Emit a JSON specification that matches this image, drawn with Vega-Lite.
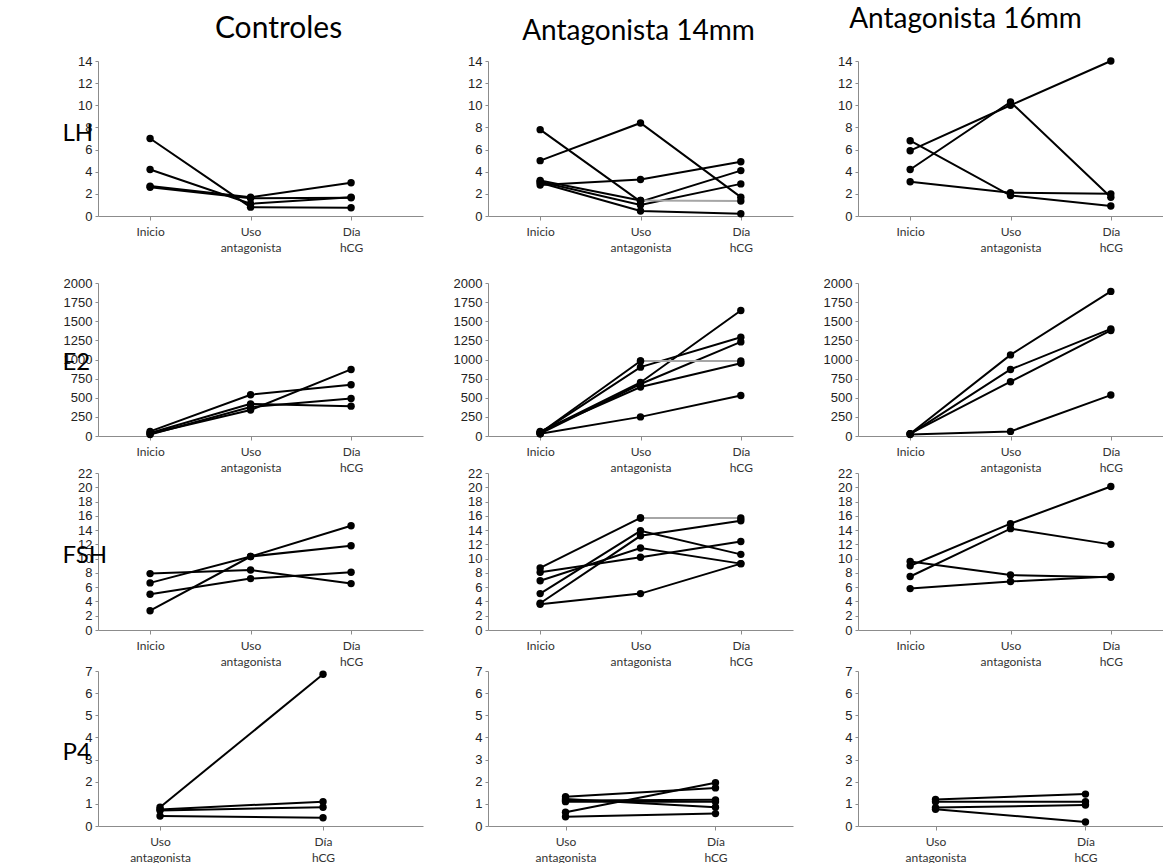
{
"$schema":"https://vega.github.io/schema/vega-lite/v6.json",
"background":"white",
"padding":{"left":62,"top":6,"right":0,"bottom":0},
"data":{"name":"d"},
"datasets":{"d":[
{"h":"LH","g":"C","s":"1","e":"Inicio","v":7.0,"c":"k"},{"h":"LH","g":"C","s":"1","e":"Uso antagonista","v":0.8,"c":"k"},{"h":"LH","g":"C","s":"1","e":"Día hCG","v":0.75,"c":"k"},
{"h":"LH","g":"C","s":"2","e":"Inicio","v":4.2,"c":"k"},{"h":"LH","g":"C","s":"2","e":"Uso antagonista","v":1.1,"c":"k"},{"h":"LH","g":"C","s":"2","e":"Día hCG","v":1.7,"c":"k"},
{"h":"LH","g":"C","s":"3","e":"Inicio","v":2.7,"c":"k"},{"h":"LH","g":"C","s":"3","e":"Uso antagonista","v":1.7,"c":"k"},{"h":"LH","g":"C","s":"3","e":"Día hCG","v":3.0,"c":"k"},
{"h":"LH","g":"C","s":"4","e":"Inicio","v":2.6,"c":"k"},{"h":"LH","g":"C","s":"4","e":"Uso antagonista","v":1.6,"c":"k"},{"h":"LH","g":"C","s":"4","e":"Día hCG","v":1.65,"c":"k"},
{"h":"LH","g":"A14","s":"1","e":"Inicio","v":7.8,"c":"k"},{"h":"LH","g":"A14","s":"1","e":"Uso antagonista","v":1.3,"c":"k"},{"h":"LH","g":"A14","s":"1","e":"Día hCG","v":4.1,"c":"k"},
{"h":"LH","g":"A14","s":"2","e":"Inicio","v":5.0,"c":"k"},{"h":"LH","g":"A14","s":"2","e":"Uso antagonista","v":8.4,"c":"k"},{"h":"LH","g":"A14","s":"2","e":"Día hCG","v":1.7,"c":"k"},
{"h":"LH","g":"A14","s":"3","e":"Inicio","v":2.8,"c":"k"},{"h":"LH","g":"A14","s":"3","e":"Uso antagonista","v":3.3,"c":"k"},{"h":"LH","g":"A14","s":"3","e":"Día hCG","v":4.9,"c":"k"},
{"h":"LH","g":"A14","s":"4","e":"Inicio","v":3.1,"c":"k"},{"h":"LH","g":"A14","s":"4","e":"Uso antagonista","v":1.0,"c":"k"},{"h":"LH","g":"A14","s":"4","e":"Día hCG","v":2.9,"c":"k"},
{"h":"LH","g":"A14","s":"5","e":"Inicio","v":3.0,"c":"k"},{"h":"LH","g":"A14","s":"5","e":"Uso antagonista","v":0.45,"c":"k"},{"h":"LH","g":"A14","s":"5","e":"Día hCG","v":0.2,"c":"k"},
{"h":"LH","g":"A14","s":"6","e":"Inicio","v":3.2,"c":"k"},{"h":"LH","g":"A14","s":"6","e":"Uso antagonista","v":1.4,"c":"k"},
{"h":"LH","g":"A14","s":"6g","e":"Uso antagonista","v":1.4,"c":"g"},{"h":"LH","g":"A14","s":"6g","e":"Día hCG","v":1.35,"c":"g"},
{"h":"LH","g":"A16","s":"1","e":"Inicio","v":6.8,"c":"k"},{"h":"LH","g":"A16","s":"1","e":"Uso antagonista","v":1.85,"c":"k"},{"h":"LH","g":"A16","s":"1","e":"Día hCG","v":0.9,"c":"k"},
{"h":"LH","g":"A16","s":"2","e":"Inicio","v":5.9,"c":"k"},{"h":"LH","g":"A16","s":"2","e":"Uso antagonista","v":10.0,"c":"k"},{"h":"LH","g":"A16","s":"2","e":"Día hCG","v":14.0,"c":"k"},
{"h":"LH","g":"A16","s":"3","e":"Inicio","v":4.2,"c":"k"},{"h":"LH","g":"A16","s":"3","e":"Uso antagonista","v":10.3,"c":"k"},{"h":"LH","g":"A16","s":"3","e":"Día hCG","v":1.7,"c":"k"},
{"h":"LH","g":"A16","s":"4","e":"Inicio","v":3.1,"c":"k"},{"h":"LH","g":"A16","s":"4","e":"Uso antagonista","v":2.1,"c":"k"},{"h":"LH","g":"A16","s":"4","e":"Día hCG","v":2.0,"c":"k"},
{"h":"E2","g":"C","s":"1","e":"Inicio","v":60,"c":"k"},{"h":"E2","g":"C","s":"1","e":"Uso antagonista","v":540,"c":"k"},{"h":"E2","g":"C","s":"1","e":"Día hCG","v":670,"c":"k"},
{"h":"E2","g":"C","s":"2","e":"Inicio","v":40,"c":"k"},{"h":"E2","g":"C","s":"2","e":"Uso antagonista","v":420,"c":"k"},{"h":"E2","g":"C","s":"2","e":"Día hCG","v":390,"c":"k"},
{"h":"E2","g":"C","s":"3","e":"Inicio","v":30,"c":"k"},{"h":"E2","g":"C","s":"3","e":"Uso antagonista","v":340,"c":"k"},{"h":"E2","g":"C","s":"3","e":"Día hCG","v":870,"c":"k"},
{"h":"E2","g":"C","s":"4","e":"Inicio","v":20,"c":"k"},{"h":"E2","g":"C","s":"4","e":"Uso antagonista","v":380,"c":"k"},{"h":"E2","g":"C","s":"4","e":"Día hCG","v":490,"c":"k"},
{"h":"E2","g":"A14","s":"1","e":"Inicio","v":50,"c":"k"},{"h":"E2","g":"A14","s":"1","e":"Uso antagonista","v":700,"c":"k"},{"h":"E2","g":"A14","s":"1","e":"Día hCG","v":1640,"c":"k"},
{"h":"E2","g":"A14","s":"2","e":"Inicio","v":40,"c":"k"},{"h":"E2","g":"A14","s":"2","e":"Uso antagonista","v":900,"c":"k"},{"h":"E2","g":"A14","s":"2","e":"Día hCG","v":1290,"c":"k"},
{"h":"E2","g":"A14","s":"3","e":"Inicio","v":30,"c":"k"},{"h":"E2","g":"A14","s":"3","e":"Uso antagonista","v":680,"c":"k"},{"h":"E2","g":"A14","s":"3","e":"Día hCG","v":1230,"c":"k"},
{"h":"E2","g":"A14","s":"4","e":"Inicio","v":60,"c":"k"},{"h":"E2","g":"A14","s":"4","e":"Uso antagonista","v":640,"c":"k"},{"h":"E2","g":"A14","s":"4","e":"Día hCG","v":950,"c":"k"},
{"h":"E2","g":"A14","s":"5","e":"Inicio","v":30,"c":"k"},{"h":"E2","g":"A14","s":"5","e":"Uso antagonista","v":250,"c":"k"},{"h":"E2","g":"A14","s":"5","e":"Día hCG","v":530,"c":"k"},
{"h":"E2","g":"A14","s":"6","e":"Inicio","v":40,"c":"k"},{"h":"E2","g":"A14","s":"6","e":"Uso antagonista","v":980,"c":"k"},
{"h":"E2","g":"A14","s":"6g","e":"Uso antagonista","v":980,"c":"g"},{"h":"E2","g":"A14","s":"6g","e":"Día hCG","v":980,"c":"g"},
{"h":"E2","g":"A16","s":"1","e":"Inicio","v":30,"c":"k"},{"h":"E2","g":"A16","s":"1","e":"Uso antagonista","v":1060,"c":"k"},{"h":"E2","g":"A16","s":"1","e":"Día hCG","v":1890,"c":"k"},
{"h":"E2","g":"A16","s":"2","e":"Inicio","v":25,"c":"k"},{"h":"E2","g":"A16","s":"2","e":"Uso antagonista","v":870,"c":"k"},{"h":"E2","g":"A16","s":"2","e":"Día hCG","v":1400,"c":"k"},
{"h":"E2","g":"A16","s":"3","e":"Inicio","v":30,"c":"k"},{"h":"E2","g":"A16","s":"3","e":"Uso antagonista","v":710,"c":"k"},{"h":"E2","g":"A16","s":"3","e":"Día hCG","v":1380,"c":"k"},
{"h":"E2","g":"A16","s":"4","e":"Inicio","v":20,"c":"k"},{"h":"E2","g":"A16","s":"4","e":"Uso antagonista","v":60,"c":"k"},{"h":"E2","g":"A16","s":"4","e":"Día hCG","v":535,"c":"k"},
{"h":"FSH","g":"C","s":"1","e":"Inicio","v":7.9,"c":"k"},{"h":"FSH","g":"C","s":"1","e":"Uso antagonista","v":8.4,"c":"k"},{"h":"FSH","g":"C","s":"1","e":"Día hCG","v":6.5,"c":"k"},
{"h":"FSH","g":"C","s":"2","e":"Inicio","v":6.6,"c":"k"},{"h":"FSH","g":"C","s":"2","e":"Uso antagonista","v":10.3,"c":"k"},{"h":"FSH","g":"C","s":"2","e":"Día hCG","v":11.8,"c":"k"},
{"h":"FSH","g":"C","s":"3","e":"Inicio","v":5.0,"c":"k"},{"h":"FSH","g":"C","s":"3","e":"Uso antagonista","v":7.2,"c":"k"},{"h":"FSH","g":"C","s":"3","e":"Día hCG","v":8.1,"c":"k"},
{"h":"FSH","g":"C","s":"4","e":"Inicio","v":2.7,"c":"k"},{"h":"FSH","g":"C","s":"4","e":"Uso antagonista","v":10.3,"c":"k"},{"h":"FSH","g":"C","s":"4","e":"Día hCG","v":14.6,"c":"k"},
{"h":"FSH","g":"A14","s":"1","e":"Inicio","v":8.1,"c":"k"},{"h":"FSH","g":"A14","s":"1","e":"Uso antagonista","v":10.2,"c":"k"},{"h":"FSH","g":"A14","s":"1","e":"Día hCG","v":12.4,"c":"k"},
{"h":"FSH","g":"A14","s":"2","e":"Inicio","v":6.9,"c":"k"},{"h":"FSH","g":"A14","s":"2","e":"Uso antagonista","v":11.5,"c":"k"},{"h":"FSH","g":"A14","s":"2","e":"Día hCG","v":9.3,"c":"k"},
{"h":"FSH","g":"A14","s":"3","e":"Inicio","v":5.1,"c":"k"},{"h":"FSH","g":"A14","s":"3","e":"Uso antagonista","v":13.9,"c":"k"},{"h":"FSH","g":"A14","s":"3","e":"Día hCG","v":10.6,"c":"k"},
{"h":"FSH","g":"A14","s":"4","e":"Inicio","v":3.75,"c":"k"},{"h":"FSH","g":"A14","s":"4","e":"Uso antagonista","v":13.2,"c":"k"},{"h":"FSH","g":"A14","s":"4","e":"Día hCG","v":15.3,"c":"k"},
{"h":"FSH","g":"A14","s":"5","e":"Inicio","v":3.6,"c":"k"},{"h":"FSH","g":"A14","s":"5","e":"Uso antagonista","v":5.1,"c":"k"},{"h":"FSH","g":"A14","s":"5","e":"Día hCG","v":9.3,"c":"k"},
{"h":"FSH","g":"A14","s":"6","e":"Inicio","v":8.7,"c":"k"},{"h":"FSH","g":"A14","s":"6","e":"Uso antagonista","v":15.7,"c":"k"},
{"h":"FSH","g":"A14","s":"6g","e":"Uso antagonista","v":15.7,"c":"g"},{"h":"FSH","g":"A14","s":"6g","e":"Día hCG","v":15.7,"c":"g"},
{"h":"FSH","g":"A16","s":"1","e":"Inicio","v":9.0,"c":"k"},{"h":"FSH","g":"A16","s":"1","e":"Uso antagonista","v":14.9,"c":"k"},{"h":"FSH","g":"A16","s":"1","e":"Día hCG","v":20.1,"c":"k"},
{"h":"FSH","g":"A16","s":"2","e":"Inicio","v":7.5,"c":"k"},{"h":"FSH","g":"A16","s":"2","e":"Uso antagonista","v":14.2,"c":"k"},{"h":"FSH","g":"A16","s":"2","e":"Día hCG","v":12.0,"c":"k"},
{"h":"FSH","g":"A16","s":"3","e":"Inicio","v":9.6,"c":"k"},{"h":"FSH","g":"A16","s":"3","e":"Uso antagonista","v":7.7,"c":"k"},{"h":"FSH","g":"A16","s":"3","e":"Día hCG","v":7.4,"c":"k"},
{"h":"FSH","g":"A16","s":"4","e":"Inicio","v":5.8,"c":"k"},{"h":"FSH","g":"A16","s":"4","e":"Uso antagonista","v":6.8,"c":"k"},{"h":"FSH","g":"A16","s":"4","e":"Día hCG","v":7.5,"c":"k"},
{"h":"P4","g":"C","s":"1","e":"Uso antagonista","v":0.85,"c":"k"},{"h":"P4","g":"C","s":"1","e":"Día hCG","v":6.85,"c":"k"},
{"h":"P4","g":"C","s":"2","e":"Uso antagonista","v":0.75,"c":"k"},{"h":"P4","g":"C","s":"2","e":"Día hCG","v":1.1,"c":"k"},
{"h":"P4","g":"C","s":"3","e":"Uso antagonista","v":0.7,"c":"k"},{"h":"P4","g":"C","s":"3","e":"Día hCG","v":0.85,"c":"k"},
{"h":"P4","g":"C","s":"4","e":"Uso antagonista","v":0.45,"c":"k"},{"h":"P4","g":"C","s":"4","e":"Día hCG","v":0.37,"c":"k"},
{"h":"P4","g":"A14","s":"1","e":"Uso antagonista","v":1.32,"c":"k"},{"h":"P4","g":"A14","s":"1","e":"Día hCG","v":1.72,"c":"k"},
{"h":"P4","g":"A14","s":"2","e":"Uso antagonista","v":0.62,"c":"k"},{"h":"P4","g":"A14","s":"2","e":"Día hCG","v":1.95,"c":"k"},
{"h":"P4","g":"A14","s":"3","e":"Uso antagonista","v":1.22,"c":"k"},{"h":"P4","g":"A14","s":"3","e":"Día hCG","v":0.85,"c":"k"},
{"h":"P4","g":"A14","s":"4","e":"Uso antagonista","v":1.1,"c":"k"},{"h":"P4","g":"A14","s":"4","e":"Día hCG","v":1.1,"c":"k"},
{"h":"P4","g":"A14","s":"5","e":"Uso antagonista","v":1.15,"c":"k"},{"h":"P4","g":"A14","s":"5","e":"Día hCG","v":1.18,"c":"k"},
{"h":"P4","g":"A14","s":"6","e":"Uso antagonista","v":0.42,"c":"k"},{"h":"P4","g":"A14","s":"6","e":"Día hCG","v":0.56,"c":"k"},
{"h":"P4","g":"A16","s":"1","e":"Uso antagonista","v":1.2,"c":"k"},{"h":"P4","g":"A16","s":"1","e":"Día hCG","v":1.44,"c":"k"},
{"h":"P4","g":"A16","s":"2","e":"Uso antagonista","v":1.1,"c":"k"},{"h":"P4","g":"A16","s":"2","e":"Día hCG","v":1.1,"c":"k"},
{"h":"P4","g":"A16","s":"3","e":"Uso antagonista","v":0.83,"c":"k"},{"h":"P4","g":"A16","s":"3","e":"Día hCG","v":0.95,"c":"k"},
{"h":"P4","g":"A16","s":"4","e":"Uso antagonista","v":0.76,"c":"k"},{"h":"P4","g":"A16","s":"4","e":"Día hCG","v":0.18,"c":"k"}
]},
"config":{
 "view":{"stroke":null},
 "axisX":{"labelFont":"Lato","labelFontSize":12,"labelColor":"#333333","labelAngle":0,"domainColor":"#8c8c8c","tickColor":"#8c8c8c","tickSize":4,"labelPadding":6,"grid":false,"labelExpr":"split(datum.label,' ')","labelLineHeight":16},
 "axisY":{"labelFont":"Liberation Sans","labelFontSize":13,"labelColor":"#222222","domainColor":"#8c8c8c","tickColor":"#8c8c8c","tickSize":3,"grid":false,"labelPadding":3,"titleAngle":0,"titleFont":"Lato","titleFontSize":24,"titleFontWeight":"normal","titleColor":"#000000","titleAlign":"left","titleBaseline":"middle","titleX":-36},
 "title":{"font":"Lato","fontSize":28,"fontWeight":"normal","color":"#000000","anchor":"middle","baseline":"alphabetic"},
 "line":{"strokeWidth":2,"color":"#000000"},
 "circle":{"size":55,"color":"#000000","opacity":1}
},
"spacing":24,
"vconcat":[
 {"bounds":"flush","spacing":65,"hconcat":[
  {"width":325,"height":155,"title":{"text":"Controles","dx":18,"offset":11,"fontSize":30},
   "transform":[{"filter":"datum.h=='LH' && datum.g=='C'"}],
   "encoding":{"x":{"field":"e","type":"ordinal","title":null,"scale":{"type":"point","domain":["Inicio","Uso antagonista","Día hCG"],"padding":0.617,"align":0.42}},
    "y":{"field":"v","type":"quantitative","title":"LH","scale":{"domain":[0,14],"nice":false},"axis":{"values":[0,2,4,6,8,10,12,14],"titleY":72}}},
   "layer":[{"mark":"line","encoding":{"detail":{"field":"s"},"color":{"field":"c","type":"nominal","scale":{"domain":["k","g"],"range":["#000000","#a6a6a6"]},"legend":null},"strokeWidth":{"field":"c","type":"nominal","scale":{"domain":["k","g"],"range":[2,1]},"legend":null}}},{"mark":"circle"}]},
  {"width":305,"height":155,"title":{"text":"Antagonista 14mm","dx":-2,"offset":9},
   "transform":[{"filter":"datum.h=='LH' && datum.g=='A14'"}],
   "encoding":{"x":{"field":"e","type":"ordinal","title":null,"scale":{"type":"point","domain":["Inicio","Uso antagonista","Día hCG"],"padding":0.52}},
    "y":{"field":"v","type":"quantitative","title":null,"scale":{"domain":[0,14],"nice":false},"axis":{"values":[0,2,4,6,8,10,12,14]}}},
   "layer":[{"mark":"line","encoding":{"detail":{"field":"s"},"color":{"field":"c","type":"nominal","scale":{"domain":["k","g"],"range":["#000000","#a6a6a6"]},"legend":null},"strokeWidth":{"field":"c","type":"nominal","scale":{"domain":["k","g"],"range":[2,1]},"legend":null}}},{"mark":"circle"}]},
  {"width":305,"height":155,"title":{"text":"Antagonista 16mm","dx":-45,"offset":21},
   "transform":[{"filter":"datum.h=='LH' && datum.g=='A16'"}],
   "encoding":{"x":{"field":"e","type":"ordinal","title":null,"scale":{"type":"point","domain":["Inicio","Uso antagonista","Día hCG"],"padding":0.52}},
    "y":{"field":"v","type":"quantitative","title":null,"scale":{"domain":[0,14],"nice":false},"axis":{"values":[0,2,4,6,8,10,12,14]}}},
   "layer":[{"mark":"line","encoding":{"detail":{"field":"s"},"color":{"field":"c","type":"nominal","scale":{"domain":["k","g"],"range":["#000000","#a6a6a6"]},"legend":null},"strokeWidth":{"field":"c","type":"nominal","scale":{"domain":["k","g"],"range":[2,1]},"legend":null}}},{"mark":"circle"}]}
 ]},
 {"spacing":-10,"vconcat":[
  {"bounds":"flush","spacing":65,"hconcat":[
   {"width":325,"height":153,
    "transform":[{"filter":"datum.h=='E2' && datum.g=='C'"}],
    "encoding":{"x":{"field":"e","type":"ordinal","title":null,"scale":{"type":"point","domain":["Inicio","Uso antagonista","Día hCG"],"padding":0.617,"align":0.42}},
     "y":{"field":"v","type":"quantitative","title":"E2","scale":{"domain":[0,2000],"nice":false},"axis":{"values":[0,250,500,750,1000,1250,1500,1750,2000],"format":"d","titleY":79}}},
    "layer":[{"mark":"line","encoding":{"detail":{"field":"s"},"color":{"field":"c","type":"nominal","scale":{"domain":["k","g"],"range":["#000000","#a6a6a6"]},"legend":null},"strokeWidth":{"field":"c","type":"nominal","scale":{"domain":["k","g"],"range":[2,1]},"legend":null}}},{"mark":"circle"}]},
   {"width":305,"height":153,
    "transform":[{"filter":"datum.h=='E2' && datum.g=='A14'"}],
    "encoding":{"x":{"field":"e","type":"ordinal","title":null,"scale":{"type":"point","domain":["Inicio","Uso antagonista","Día hCG"],"padding":0.52}},
     "y":{"field":"v","type":"quantitative","title":null,"scale":{"domain":[0,2000],"nice":false},"axis":{"values":[0,250,500,750,1000,1250,1500,1750,2000],"format":"d"}}},
    "layer":[{"mark":"line","encoding":{"detail":{"field":"s"},"color":{"field":"c","type":"nominal","scale":{"domain":["k","g"],"range":["#000000","#a6a6a6"]},"legend":null},"strokeWidth":{"field":"c","type":"nominal","scale":{"domain":["k","g"],"range":[2,1]},"legend":null}}},{"mark":"circle"}]},
   {"width":305,"height":153,
    "transform":[{"filter":"datum.h=='E2' && datum.g=='A16'"}],
    "encoding":{"x":{"field":"e","type":"ordinal","title":null,"scale":{"type":"point","domain":["Inicio","Uso antagonista","Día hCG"],"padding":0.52}},
     "y":{"field":"v","type":"quantitative","title":null,"scale":{"domain":[0,2000],"nice":false},"axis":{"values":[0,250,500,750,1000,1250,1500,1750,2000],"format":"d"}}},
    "layer":[{"mark":"line","encoding":{"detail":{"field":"s"},"color":{"field":"c","type":"nominal","scale":{"domain":["k","g"],"range":["#000000","#a6a6a6"]},"legend":null},"strokeWidth":{"field":"c","type":"nominal","scale":{"domain":["k","g"],"range":[2,1]},"legend":null}}},{"mark":"circle"}]}
  ]},
  {"spacing":-2,"vconcat":[
   {"bounds":"flush","spacing":65,"hconcat":[
    {"width":325,"height":157,
     "transform":[{"filter":"datum.h=='FSH' && datum.g=='C'"}],
     "encoding":{"x":{"field":"e","type":"ordinal","title":null,"scale":{"type":"point","domain":["Inicio","Uso antagonista","Día hCG"],"padding":0.617,"align":0.42}},
      "y":{"field":"v","type":"quantitative","title":"FSH","scale":{"domain":[0,22],"nice":false},"axis":{"values":[0,2,4,6,8,10,12,14,16,18,20,22],"titleY":82}}},
     "layer":[{"mark":"line","encoding":{"detail":{"field":"s"},"color":{"field":"c","type":"nominal","scale":{"domain":["k","g"],"range":["#000000","#a6a6a6"]},"legend":null},"strokeWidth":{"field":"c","type":"nominal","scale":{"domain":["k","g"],"range":[2,1]},"legend":null}}},{"mark":"circle"}]},
    {"width":305,"height":157,
     "transform":[{"filter":"datum.h=='FSH' && datum.g=='A14'"}],
     "encoding":{"x":{"field":"e","type":"ordinal","title":null,"scale":{"type":"point","domain":["Inicio","Uso antagonista","Día hCG"],"padding":0.52}},
      "y":{"field":"v","type":"quantitative","title":null,"scale":{"domain":[0,22],"nice":false},"axis":{"values":[0,2,4,6,8,10,12,14,16,18,20,22]}}},
     "layer":[{"mark":"line","encoding":{"detail":{"field":"s"},"color":{"field":"c","type":"nominal","scale":{"domain":["k","g"],"range":["#000000","#a6a6a6"]},"legend":null},"strokeWidth":{"field":"c","type":"nominal","scale":{"domain":["k","g"],"range":[2,1]},"legend":null}}},{"mark":"circle"}]},
    {"width":305,"height":157,
     "transform":[{"filter":"datum.h=='FSH' && datum.g=='A16'"}],
     "encoding":{"x":{"field":"e","type":"ordinal","title":null,"scale":{"type":"point","domain":["Inicio","Uso antagonista","Día hCG"],"padding":0.52}},
      "y":{"field":"v","type":"quantitative","title":null,"scale":{"domain":[0,22],"nice":false},"axis":{"values":[0,2,4,6,8,10,12,14,16,18,20,22]}}},
     "layer":[{"mark":"line","encoding":{"detail":{"field":"s"},"color":{"field":"c","type":"nominal","scale":{"domain":["k","g"],"range":["#000000","#a6a6a6"]},"legend":null},"strokeWidth":{"field":"c","type":"nominal","scale":{"domain":["k","g"],"range":[2,1]},"legend":null}}},{"mark":"circle"}]}
   ]},
   {"bounds":"flush","spacing":65,"hconcat":[
    {"width":325,"height":155,
     "transform":[{"filter":"datum.h=='P4' && datum.g=='C'"}],
     "encoding":{"x":{"field":"e","type":"ordinal","title":null,"scale":{"type":"point","domain":["Uso antagonista","Día hCG"],"padding":0.497,"align":0.383}},
      "y":{"field":"v","type":"quantitative","title":"P4","scale":{"domain":[0,7],"nice":false},"axis":{"values":[0,1,2,3,4,5,6,7],"titleY":81}}},
     "layer":[{"mark":"line","encoding":{"detail":{"field":"s"}}},{"mark":"circle"}]},
    {"width":305,"height":155,
     "transform":[{"filter":"datum.h=='P4' && datum.g=='A14'"}],
     "encoding":{"x":{"field":"e","type":"ordinal","title":null,"scale":{"type":"point","domain":["Uso antagonista","Día hCG"],"padding":0.517}},
      "y":{"field":"v","type":"quantitative","title":null,"scale":{"domain":[0,7],"nice":false},"axis":{"values":[0,1,2,3,4,5,6,7]}}},
     "layer":[{"mark":"line","encoding":{"detail":{"field":"s"}}},{"mark":"circle"}]},
    {"width":305,"height":155,
     "transform":[{"filter":"datum.h=='P4' && datum.g=='A16'"}],
     "encoding":{"x":{"field":"e","type":"ordinal","title":null,"scale":{"type":"point","domain":["Uso antagonista","Día hCG"],"padding":0.517}},
      "y":{"field":"v","type":"quantitative","title":null,"scale":{"domain":[0,7],"nice":false},"axis":{"values":[0,1,2,3,4,5,6,7]}}},
     "layer":[{"mark":"line","encoding":{"detail":{"field":"s"}}},{"mark":"circle"}]}
   ]}
  ]}
 ]}
]
}
